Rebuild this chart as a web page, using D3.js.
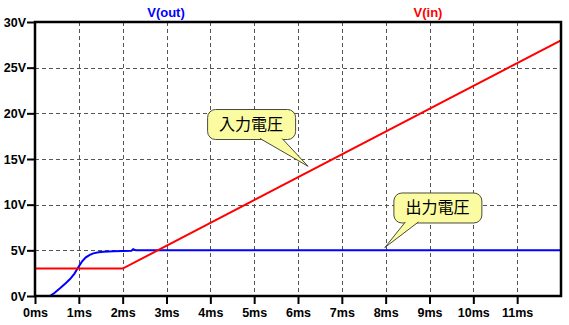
<!DOCTYPE html>
<html>
<head>
<meta charset="utf-8">
<script src="https://cdn.jsdelivr.net/npm/d3@7"></script>
<style>
  body { margin: 0; background: #fff; }
  svg { display: block; }
  .tick text { font-family: "Liberation Sans", Arial, sans-serif; font-weight: bold; font-size: 12.5px; fill: #000; }
  .tick line { stroke: #000; stroke-width: 2; }
</style>
</head>
<body>
<svg id="chart" width="569" height="325"></svg>
<script>
// data (time in ms, voltage in V)
var vOutT = [0, 0.34, 0.45, 0.57, 0.7, 0.8, 0.9, 0.97, 1.07, 1.16, 1.25, 1.33, 1.45, 1.56, 1.8, 2.0, 2.2, 2.24, 2.3, 4, 8, 12];
var vOutV = [0, 0, 0.35, 0.84, 1.4, 1.86, 2.45, 3.0, 3.76, 4.23, 4.5, 4.67, 4.78, 4.85, 4.9, 4.93, 4.95, 5.12, 5.0, 5.0, 5.0, 5.0];
var vInT = [0, 2, 12];
var vInV = [3, 3, 28];
var xTicks = [0, 1, 2, 3, 4, 5, 6, 7, 8, 9, 10, 11];
var yTicks = [0, 5, 10, 15, 20, 25, 30];
var traceNames = ["V(out)", "V(in)"];
var traceColors = ["#0000ff", "#ff0000"];
var calloutText = ["入力電圧", "出力電圧"];
var calloutTip = [[6.23, 14.2], [7.98, 5.3]];   // arrow tip (ms, V)
var calloutBox = [[4.93, 18.83], [9.18, 9.69]]; // box centre (ms, V)

// layout
var svg = d3.select("#chart");
var L = 35, R = 561, T = 22, B = 296;
var x = d3.scaleLinear().domain([0, 12]).range([L, R]);
var y = d3.scaleLinear().domain([0, 30]).range([B, T]);

// grid
var grid = svg.append("g").attr("stroke", "#555").attr("stroke-width", 1).attr("stroke-dasharray", "4,3");
grid.selectAll(".gx").data(xTicks.slice(1)).enter().append("line")
    .attr("x1", d => Math.round(x(d)) + 0.5).attr("x2", d => Math.round(x(d)) + 0.5)
    .attr("y1", T).attr("y2", B);
grid.selectAll(".gy").data(yTicks.slice(1, -1)).enter().append("line")
    .attr("y1", d => Math.round(y(d)) + 0.5).attr("y2", d => Math.round(y(d)) + 0.5)
    .attr("x1", L).attr("x2", R);

// axes
svg.append("g").attr("transform", "translate(" + L + ",0)")
    .call(d3.axisLeft(y).tickValues(yTicks).tickSize(8).tickPadding(1).tickFormat(d => d + "V"))
    .call(g => g.select(".domain").remove());
svg.append("g").attr("transform", "translate(0," + B + ")")
    .call(d3.axisBottom(x).tickValues(xTicks).tickSize(8).tickPadding(4).tickFormat(d => d + "ms"))
    .call(g => g.select(".domain").remove());

// traces
var line = d3.line().x(d => x(d[0])).y(d => y(d[1]));
var traces = [d3.zip(vOutT, vOutV), d3.zip(vInT, vInV)];
svg.append("defs").append("clipPath").attr("id", "clip")
    .append("rect").attr("x", L).attr("y", T).attr("width", R - L).attr("height", B - T);
svg.append("g").attr("clip-path", "url(#clip)").selectAll("path").data(traces).enter().append("path")
    .attr("d", line).attr("fill", "none")
    .attr("stroke", (d, i) => traceColors[i]).attr("stroke-width", 2);

// frame
svg.append("rect").attr("x", L).attr("y", T).attr("width", R - L).attr("height", B - T)
    .attr("fill", "none").attr("stroke", "#000").attr("stroke-width", 2.5);

// trace titles
svg.selectAll(".title").data(traceNames).enter().append("text")
    .attr("x", (d, i) => i == 0 ? 166 : 428).attr("y", 17)
    .attr("text-anchor", "middle")
    .attr("font-family", "Liberation Sans, Arial, sans-serif").attr("font-weight", "bold").attr("font-size", 13)
    .attr("fill", (d, i) => traceColors[i]).text(d => d);

// callouts
var bw = 88, bh = 30;
var tailBase = [[9, 31], [-32, -19]]; // tail base offsets from box centre
calloutText.forEach(function(txt, i) {
    var cx = x(calloutBox[i][0]), cy = y(calloutBox[i][1]);
    var tx = x(calloutTip[i][0]), ty = y(calloutTip[i][1]);
    var g = svg.append("g");
    g.append("rect").attr("x", cx - bw / 2 + 0.5).attr("y", cy - bh / 2 + 0.5)
        .attr("width", bw).attr("height", bh).attr("rx", 8)
        .attr("fill", "#fbfba2").attr("stroke", "#4a4a3a").attr("stroke-width", 1);
    var by = cy + bh / 2 - 0.5;
    g.append("path")
        .attr("d", "M" + (cx + tailBase[i][0]) + "," + by + "L" + tx + "," + ty + "L" + (cx + tailBase[i][1]) + "," + by)
        .attr("fill", "#fbfba2").attr("stroke", "#4a4a3a").attr("stroke-width", 1);
    g.append("text").attr("x", cx).attr("y", cy + 6).attr("text-anchor", "middle")
        .attr("font-family", "Noto Sans CJK JP, sans-serif").attr("font-size", 16)
        .attr("fill", "#000").text(txt);
});
</script>
</body>
</html>
